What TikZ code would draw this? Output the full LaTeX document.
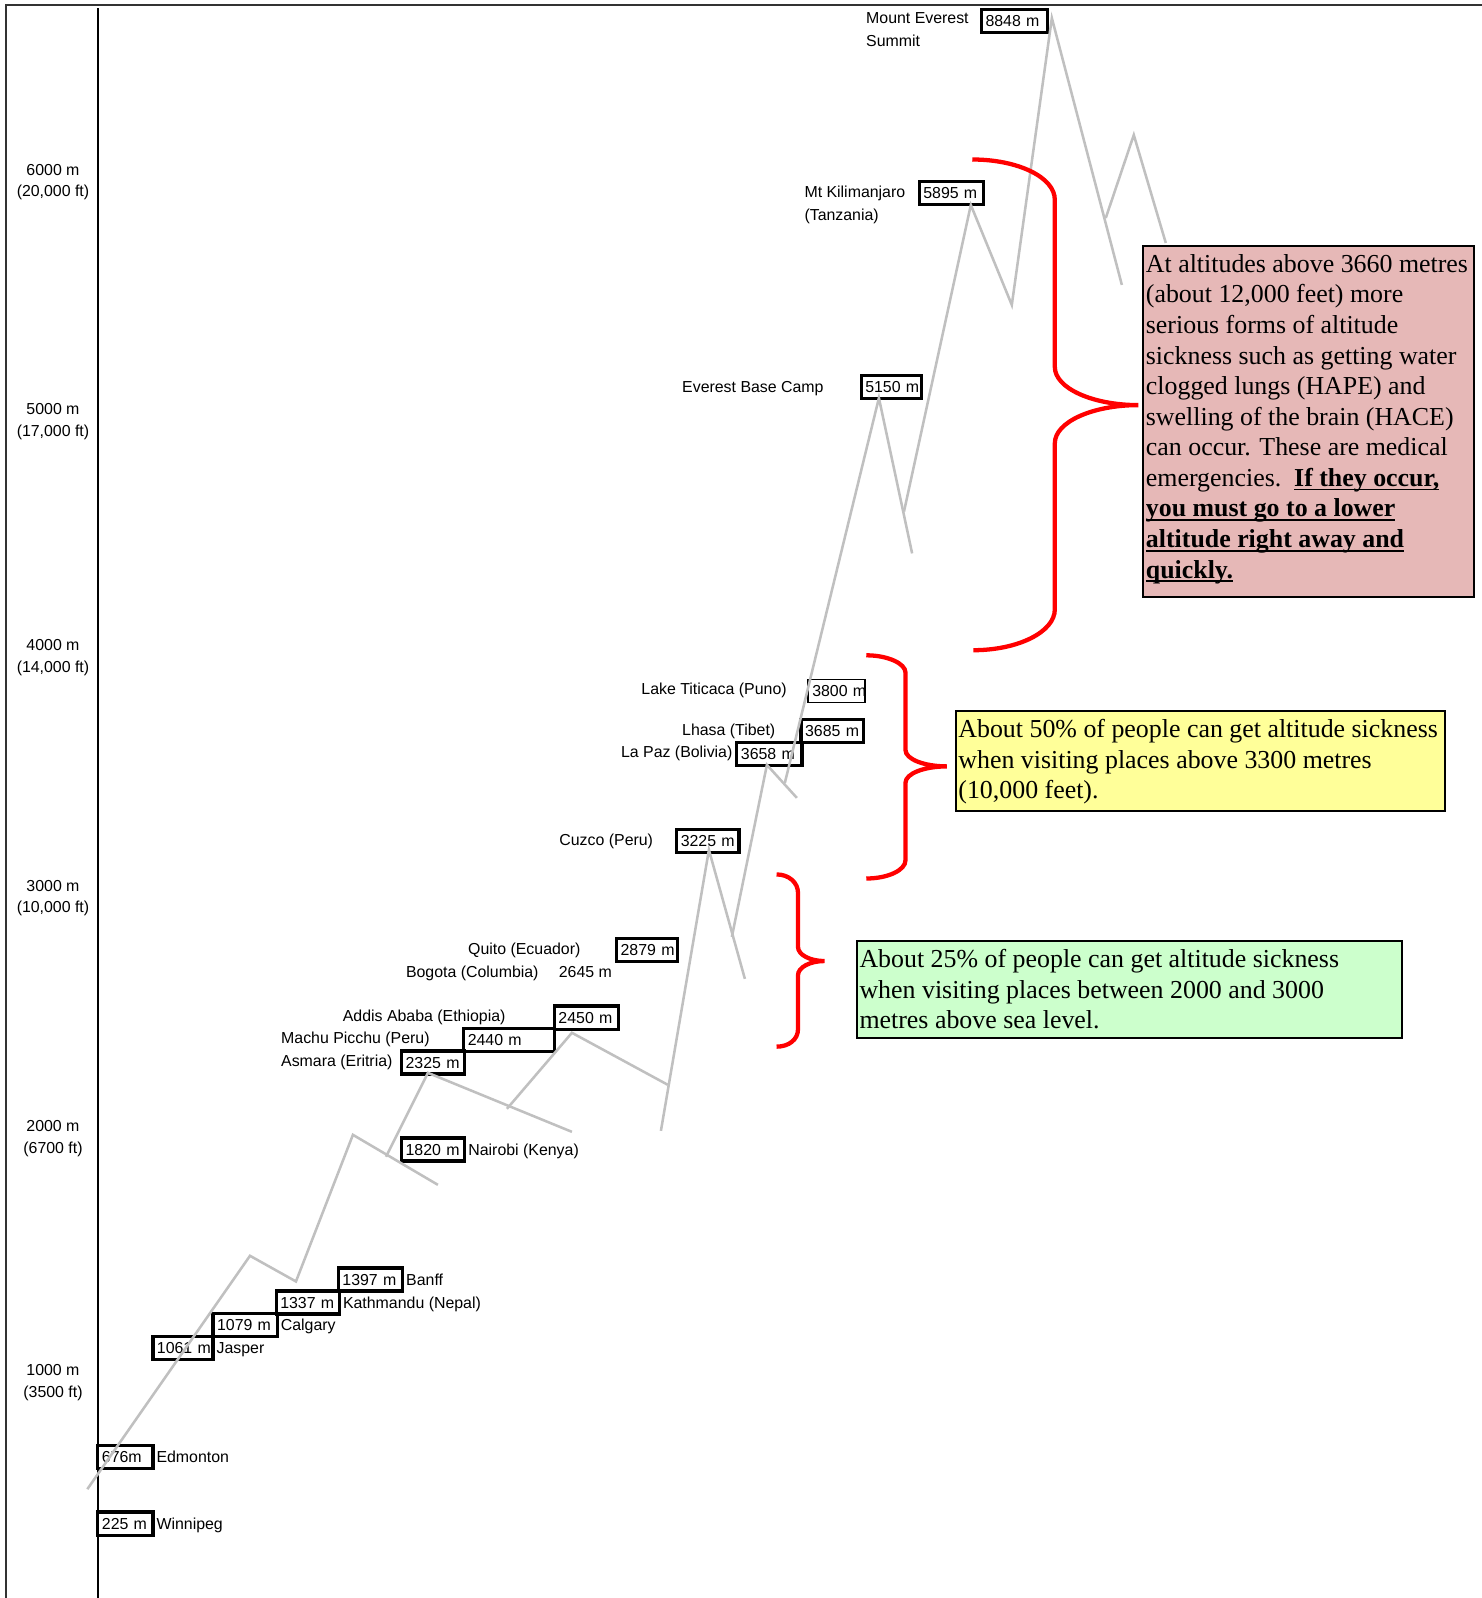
\documentclass[tikz,border=0pt]{standalone}
\usepackage{fontspec}
\setmainfont{Liberation Serif}
\setsansfont{Liberation Sans}
\usepackage{tikz}
\usetikzlibrary{calc,positioning}

\definecolor{ridgegray}{RGB}{192,192,192}
\definecolor{notepink}{RGB}{230,184,183}
\definecolor{noteyellow}{RGB}{255,255,153}
\definecolor{notegreen}{RGB}{204,255,204}

\newcommand{\lblfont}{\sffamily\fontsize{7.8}{11.25}\selectfont}
\newcommand{\axisfont}{\sffamily\fontsize{7.8}{10.4}\selectfont}
\newcommand{\notefont}{\rmfamily\fontsize{12.7}{15}\selectfont}
\newcommand{\warnline}[1]{\leavevmode\setbox0=\hbox{\bfseries #1}\rlap{\rule[-2pt]{\wd0}{0.9pt}}\box0}

\tikzset{
  lbl/.style={font=\lblfont, inner sep=0pt, anchor=base west},
  axislbl/.style={font=\axisfont, inner sep=0pt, anchor=north, align=center},
  valbox/.style={draw, line width=1.6pt, font=\lblfont, inner xsep=2pt, inner ysep=0pt,
    minimum height=11.3pt, text height=6.5pt, text depth=1pt, text width=#1, align=left},
  ridge/.style={draw=ridgegray, line width=1.25pt},
  bracket/.style={draw=red, line width=2.1pt},
  notebox/.style={draw=black, line width=1pt},
  notetext/.style={font=\notefont, inner sep=0pt, anchor=north west, align=left}
}

\begin{document}
\begin{tikzpicture}[x=0.5pt, y=-0.5pt]
  \useasboundingbox (0,0) rectangle (1454,1568);
  % Frame and axis
  \draw[line width=0.8pt, black!80] (6,1568) -- (6,5) -- (1454,5);
  \draw[line width=1pt] (96,8) -- (96,1568);
  % Axis labels
  \node[axislbl] (ax6) at (52,160.8) {6000 m\\(20,000 ft)};
  \node[axislbl] (ax5) at (52,395.8) {5000 m\\(17,000 ft)};
  \node[axislbl] (ax4) at (52,627.3) {4000 m\\(14,000 ft)};
  \node[axislbl] (ax3) at (52,863.3) {3000 m\\(10,000 ft)};
  \node[axislbl] (ax2) at (52,1099.3) {2000 m\\(6700 ft)};
  \node[axislbl] (ax1) at (52,1338.8) {1000 m\\(3500 ft)};

  % Altitude boxes
  \node[valbox=28.5pt] (b8848) at (995.5,20.75) {\mbox{8848 m}};
  \node[valbox=27.5pt] (b5895) at (933.5,189.25) {\mbox{5895 m}};
  \node[valbox=25.75pt] (b5150) at (874.75,379.75) {\mbox{5150 m}};
  \node[valbox=24pt, line width=0.9pt] (b3800) at (821,678) {\mbox{3800 m}};
  \node[valbox=26.5pt] (b3685) at (816.5,717.5) {\mbox{3685 m}};
  \node[valbox=28pt] (b3658) at (755,739.5) {\mbox{3658 m}};
  \node[valbox=26.5pt] (b3225) at (694.5,825.5) {\mbox{3225 m}};
  \node[valbox=26pt] (b2879) at (635,932) {\mbox{2879 m}};
  \node[valbox=27.5pt] (b2450) at (575.5,998.5) {\mbox{2450 m}};
  \node[valbox=40.5pt] (b2440) at (499.5,1020.5) {\mbox{2440 m}};
  \node[valbox=27pt] (b2325) at (425,1042.5) {\mbox{2325 m}};
  \node[valbox=27pt] (b1820) at (425,1128) {\mbox{1820 m}};
  \node[valbox=27.5pt] (b1397) at (363.5,1255.5) {\mbox{1397 m}};
  \node[valbox=27pt] (b1337) at (302,1278) {\mbox{1337 m}};
  \node[valbox=27.5pt] (b1079) at (240.5,1300) {\mbox{1079 m}};
  \node[valbox=25.5pt] (b1061) at (179.5,1322.5) {\mbox{1061 m}};
  \node[valbox=23pt] (b676) at (123,1429.5) {\mbox{676m}};
  \node[valbox=23pt] (b225) at (123,1495) {\mbox{225 m}};

  % Place names
  \node[lbl, anchor=north west, align=left] (everest) at (849.5,12.3) {Mount Everest\\Summit};
  \node[lbl, anchor=north west, align=left] (kili) at (789,182.2) {Mt Kilimanjaro\\(Tanzania)};
  \node[lbl] (basecamp) at (669,385) {Everest Base Camp};
  \node[lbl] (titicaca) at (629,681) {Lake Titicaca (Puno)};
  \node[lbl] (lhasa) at (669,722) {Lhasa (Tibet)};
  \node[lbl] (lapaz) at (609,743.5) {La Paz (Bolivia)};
  \node[lbl] (cuzco) at (548.5,830) {Cuzco (Peru)};
  \node[lbl] (quito) at (459,937) {Quito (Ecuador)};
  \node[lbl] (bogota) at (398,959) {Bogota (Columbia)};
  \node[lbl] (v2645) at (548,959) {2645 m};
  \node[lbl] (addis) at (336,1002.5) {Addis Ababa (Ethiopia)};
  \node[lbl] (machu) at (275.5,1023.5) {Machu Picchu (Peru)};
  \node[lbl] (asmara) at (275.5,1046.5) {Asmara (Eritria)};
  \node[lbl] (nairobi) at ([xshift=0.8pt]b1820.base east) {Nairobi (Kenya)};
  \node[lbl] (banff) at ([xshift=0.8pt]b1397.base east) {Banff};
  \node[lbl] (kathmandu) at ([xshift=0.8pt]b1337.base east) {Kathmandu (Nepal)};
  \node[lbl] (calgary) at ([xshift=0.8pt]b1079.base east) {Calgary};
  \node[lbl] (jasper) at ([xshift=0.8pt]b1061.base east) {Jasper};
  \node[lbl] (edmonton) at ([xshift=0.8pt]b676.base east) {Edmonton};
  \node[lbl] (winnipeg) at ([xshift=0.8pt]b225.base east) {Winnipeg};

  % Mountain outline
  \draw[ridge] (85.7,1461.2) -- (245.3,1232.2) -- (290.4,1257.4) -- (346.3,1113.5) -- (429.7,1162.6);
  \draw[ridge] (378.7,1135.1) -- (419.9,1052.7) -- (561.2,1110.6);
  \draw[ridge] (497.4,1088) -- (561.2,1013.4) -- (655.4,1064.5);
  \draw[ridge] (648.5,1109.6) -- (695.6,833.9) -- (730.9,960.5);
  \draw[ridge] (718.1,919.3) -- (752.5,750.5) -- (781.9,782.9);
  \draw[ridge] (770.1,768.2) -- (862.4,390.5) -- (895,543);
  \draw[ridge] (887,502) -- (952.6,201.1) -- (992.8,299.2) -- (1032.1,17.7) -- (1100.8,279.6);
  \draw[ridge] (1085,213.9) -- (1112.5,132.4) -- (1143.9,238.4);

  % Braces
  \draw[bracket] (954,156.5) .. controls (999,156.5) and (1035,174) .. (1035,196)
    -- (1035,360) .. controls (1035,381) and (1072,397.5) .. (1117,397.5)
    .. controls (1072,397.5) and (1035,414) .. (1035,435)
    -- (1035,598) .. controls (1035,620) and (999,638) .. (955,638);
  \draw[bracket] (850,643) .. controls (871,643) and (888.5,651) .. (888.5,660)
    -- (888.5,736) .. controls (888.5,745) and (907,752) .. (929,752)
    .. controls (907,752) and (888.5,759) .. (888.5,768)
    -- (888.5,844) .. controls (888.5,854) and (871,862) .. (850,862);
  \draw[bracket] (762,858) .. controls (774,858) and (783,866) .. (783,876)
    -- (783,929) .. controls (783,937) and (795,943) .. (809,943)
    .. controls (795,943) and (783,949) .. (783,957)
    -- (783,1010) .. controls (783,1020) and (774,1027) .. (762,1027);

  % Notes
  \draw[notebox, fill=notepink] (1121.7,241) rectangle (1446.4,585.4);
  \node[notetext] (hacenote) at (1124,249.2) {At altitudes above 3660 metres\\
    (about 12,000 feet) more\\
    serious forms of altitude\\
    sickness such as getting water\\
    clogged lungs (HAPE) and\\
    swelling of the brain (HACE)\\
    can occur. These are medical\\
    emergencies.\ \ \warnline{If they occur,}\\
    \warnline{you must go to a lower}\\
    \warnline{altitude right away and}\\
    \warnline{quickly.}};
  \draw[notebox, fill=noteyellow] (937.6,697.2) rectangle (1417.6,795.7);
  \node[notetext] (halfnote) at (940,705.4) {About 50\% of people can get altitude sickness\\
    when visiting places above 3300 metres\\
    (10,000 feet).};
  \draw[notebox, fill=notegreen] (840.5,923) rectangle (1375.2,1018.6);
  \node[notetext] (quarternote) at (843,931.1) {About 25\% of people can get altitude sickness\\
    when visiting places between 2000 and 3000\\
    metres above sea level.};
\end{tikzpicture}
\end{document}
